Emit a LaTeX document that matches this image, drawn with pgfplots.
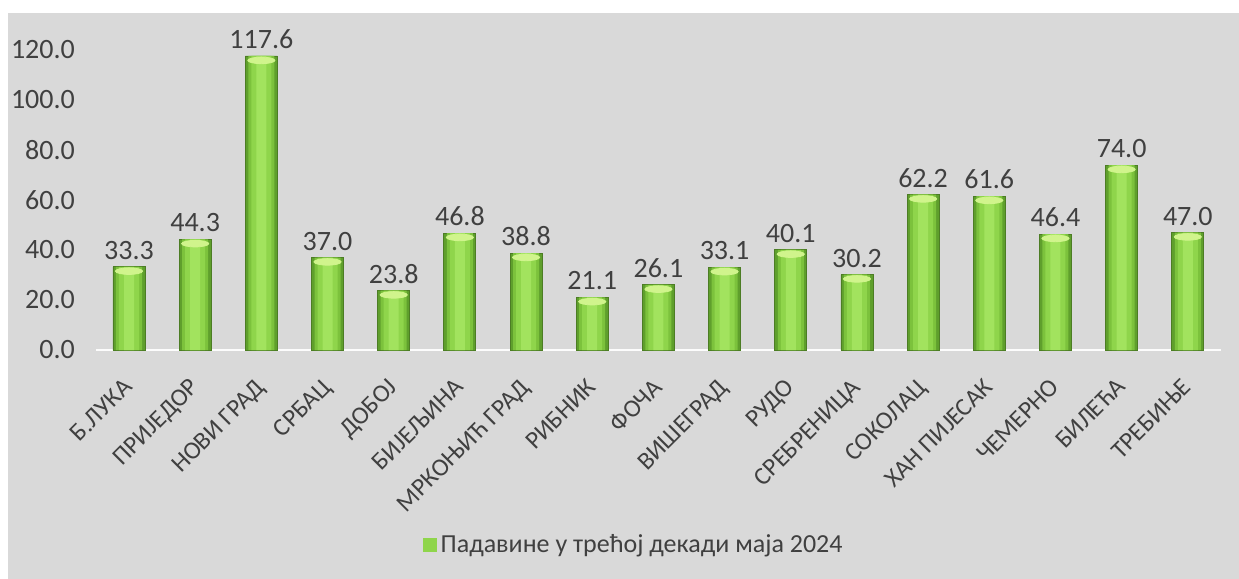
\documentclass[border=0pt]{standalone}
\usepackage{fontspec}
\setmainfont{Carlito}
\usepackage{pgfplots}
\pgfplotsset{compat=1.18}
\definecolor{bg}{HTML}{D9D9D9}
\definecolor{txt}{HTML}{404040}
\definecolor{barA}{HTML}{5F9F2C}
\definecolor{barB}{HTML}{7CC23C}
\definecolor{barC}{HTML}{8FD54B}
\definecolor{barD}{HTML}{A2E35E}
\definecolor{barline}{HTML}{4C7D24}
\definecolor{bartop}{HTML}{D0F48C}

\pgfplotstableread{
x  y
0  33.3
1  44.3
2  117.6
3  37.0
4  23.8
5  46.8
6  38.8
7  21.1
8  26.1
9  33.1
10 40.1
11 30.2
12 62.2
13 61.6
14 46.4
15 74.0
16 47.0
}\rain

\begin{document}
\begin{tikzpicture}[x=1pt,y=1pt]
% background panel
\fill[bg] (4,0) rectangle (619.5,283);
\begin{axis}[
  at={(64.5pt,114.5pt)}, anchor=origin,
  scale only axis, width=562.5pt, height=150pt,
  xmin=-0.5, xmax=16.5, ymin=0, ymax=120,
  clip=false,
  axis line style={draw=none},
  tick style={draw=none},
  ytick={0,20,...,120},
  yticklabel style={font=\fontsize{14}{14}\selectfont, text=txt, xshift=-7pt,
    /pgf/number format/.cd, fixed, zerofill, precision=1, assume math mode=true},
  xtick={0,...,16},
  xticklabels={Б.ЛУКА, ПРИЈЕДОР, НОВИ ГРАД, СРБАЦ, ДОБОЈ, БИЈЕЉИНА, МРКОЊИЋ ГРАД,
    РИБНИК, ФОЧА, ВИШЕГРАД, РУДО, СРЕБРЕНИЦА, СОКОЛАЦ, ХАН ПИЈЕСАК, ЧЕМЕРНО, БИЛЕЋА, ТРЕБИЊЕ},
  xticklabel style={font=\fontsize{12.5}{12.5}\selectfont, text=txt,
    xshift=-3.3pt, yshift=-12pt, rotate=45, anchor=north east, inner sep=1pt},
  every node near coord/.append style={font=\fontsize{14}{14}\selectfont, text=txt,
    /pgf/number format/.cd, fixed, zerofill, precision=1, assume math mode=true},
  legend style={at={(0.479,-0.65)}, anchor=center, draw=none, fill=none,
    font=\fontsize{13}{13}\selectfont, text=txt},
  legend image code/.code={\fill[barC] (0pt,-3.2pt) rectangle (6.4pt,3.2pt);},
]
% zero line
\draw[white!92!bg, line width=1.2pt] (axis cs:-0.5,0) -- (axis cs:16.5,0);
\addplot[ybar, bar width=16pt, draw=barline, line width=0.4pt, fill=barA,
  nodes near coords, nodes near coords align={vertical}] table[x=x, y=y] {\rain};
\addlegendentry{Падавине у трећој декади маја 2024}
% lighter inner bands give the cylinder look
\addplot[forget plot, ybar, bar width=13pt, draw=none, fill=barB] table[x=x, y=y] {\rain};
\addplot[forget plot, ybar, bar width=10pt, draw=none, fill=barC] table[x=x, y=y] {\rain};
\addplot[forget plot, ybar, bar width=5pt, draw=none, fill=barD] table[x=x, y=y] {\rain};
% light top of each bar
\addplot[forget plot, only marks, color=bartop, mark=*, mark size=6.8pt,
  mark options={yshift=-2.2pt, yscale=0.24, draw=none, fill=bartop}] table[x=x, y=y] {\rain};
\end{axis}
\pgfresetboundingbox
\path[use as bounding box] (0,0) rectangle (619.5,289.5);
\end{tikzpicture}
\end{document}
